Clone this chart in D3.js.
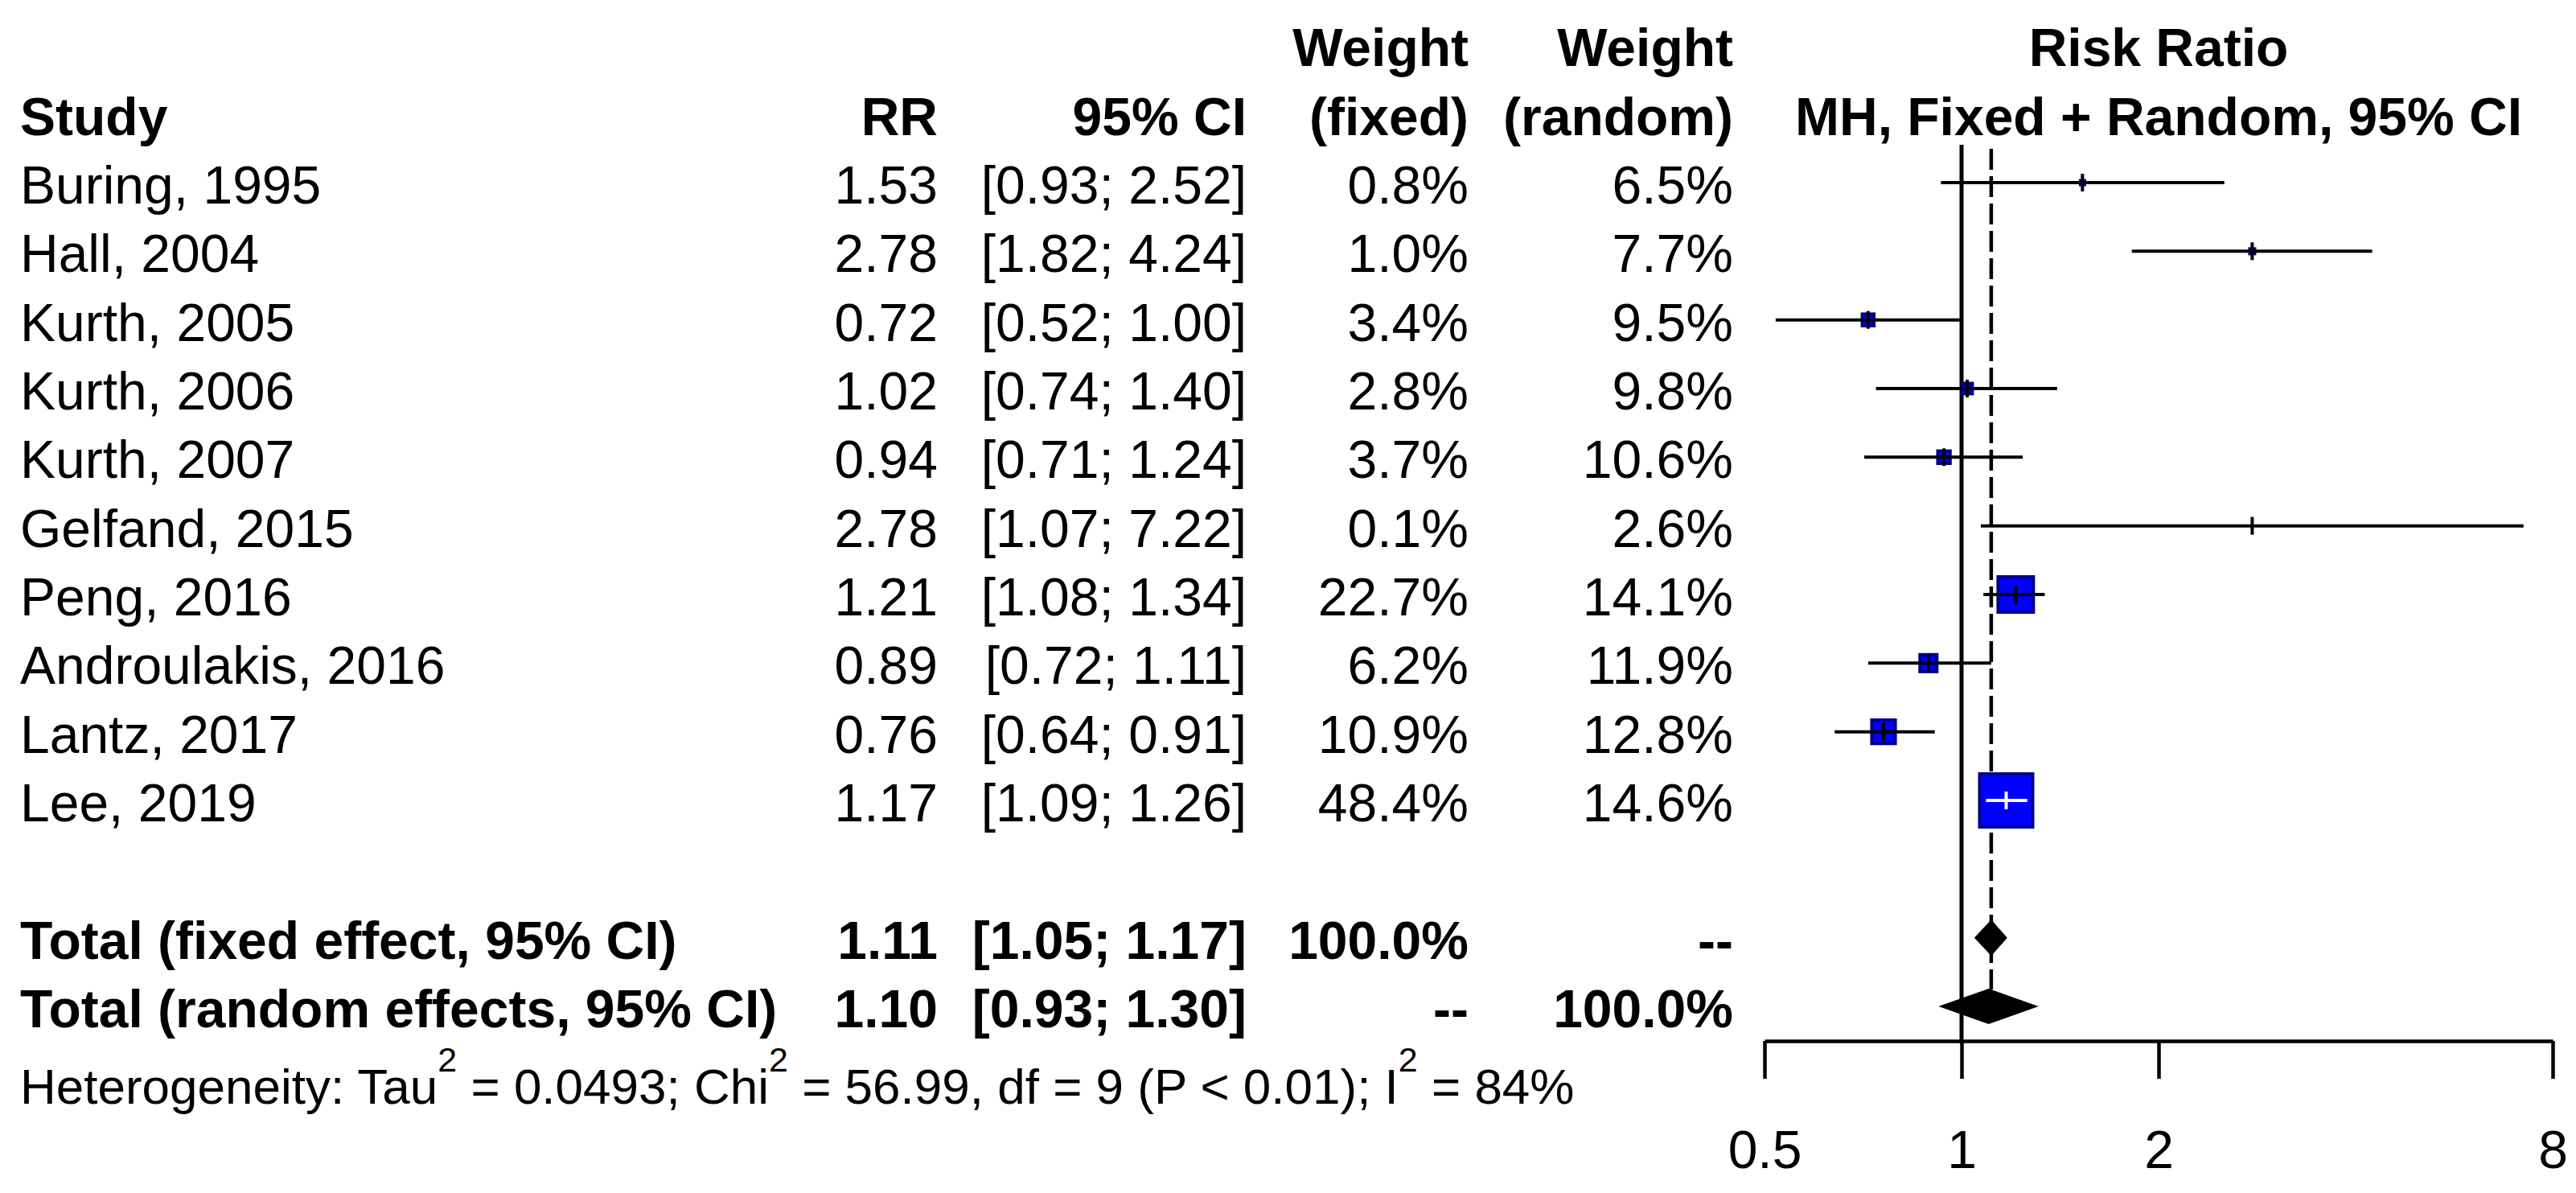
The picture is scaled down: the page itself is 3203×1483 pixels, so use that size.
<!DOCTYPE html>
<html>
<head>
<meta charset="utf-8">
<title>Forest plot</title>
<script src="https://d3js.org/d3.v7.min.js"></script>
<style>
body { margin: 0; background: #fff; }
text { font-family: "Liberation Sans", Arial, sans-serif; fill: #000; }
</style>
</head>
<body>
<svg id="chart" width="3203" height="1483"></svg>
<script>
// study data
var studies = ["Buring, 1995", "Hall, 2004", "Kurth, 2005", "Kurth, 2006", "Kurth, 2007",
  "Gelfand, 2015", "Peng, 2016", "Androulakis, 2016", "Lantz, 2017", "Lee, 2019"];
var rr    = [1.53, 2.78, 0.72, 1.02, 0.94, 2.78, 1.21, 0.89, 0.76, 1.17];
var ciLo  = [0.93, 1.82, 0.52, 0.74, 0.71, 1.07, 1.08, 0.72, 0.64, 1.09];
var ciHi  = [2.52, 4.24, 1.00, 1.40, 1.24, 7.22, 1.34, 1.11, 0.91, 1.26];
var wFixed  = [0.8, 1.0, 3.4, 2.8, 3.7, 0.1, 22.7, 6.2, 10.9, 48.4];
var wRandom = [6.5, 7.7, 9.5, 9.8, 10.6, 2.6, 14.1, 11.9, 12.8, 14.6];

// pooled estimates
var totalLabels = ["Total (fixed effect, 95% CI)", "Total (random effects, 95% CI)"];
var totalRR  = [1.11, 1.10];
var totalLo  = [1.05, 0.93];
var totalHi  = [1.17, 1.30];
var totalWF  = ["100.0%", "--"];
var totalWR  = ["--", "100.0%"];

var axisTicks = [0.5, 1, 2, 8];

var svg = d3.select("#chart");
var fs = 66;

var x = d3.scaleLog().base(2).domain([0.5, 8]).range([2194, 3174]);
var y = d3.scaleLinear().domain([0, 9]).range([227, 995]);
var side = d3.scaleSqrt().domain([0, 48.4]).range([0, 70]);

var colStudy = 25, colRR = 1166, colCI = 1550, colWF = 1826, colWR = 2155;
var base = 26;

function txt(xx, yy, s, anchor, bold, size) {
  return svg.append("text").attr("x", xx).attr("y", yy)
    .attr("text-anchor", anchor || "start")
    .attr("font-weight", bold ? "bold" : "normal")
    .attr("font-size", size || fs).text(s);
}
function fmt(v) { return v.toFixed(2); }
function ciText(lo, hi) { return "[" + fmt(lo) + "; " + fmt(hi) + "]"; }

// headers
txt(colWF, y(-2) + base, "Weight", "end", true);
txt(colWR, y(-2) + base, "Weight", "end", true);
txt((x(0.5) + x(8)) / 2, y(-2) + base, "Risk Ratio", "middle", true);
txt(colStudy, y(-1) + base, "Study", "start", true);
txt(colRR, y(-1) + base, "RR", "end", true);
txt(colCI, y(-1) + base, "95% CI", "end", true);
txt(colWF, y(-1) + base, "(fixed)", "end", true);
txt(colWR, y(-1) + base, "(random)", "end", true);
txt((x(0.5) + x(8)) / 2, y(-1) + base, "MH, Fixed + Random, 95% CI", "middle", true);

// study rows text
studies.forEach(function (s, i) {
  var yy = y(i) + base;
  txt(colStudy, yy, s, "start");
  txt(colRR, yy, fmt(rr[i]), "end");
  txt(colCI, yy, ciText(ciLo[i], ciHi[i]), "end");
  txt(colWF, yy, wFixed[i].toFixed(1) + "%", "end");
  txt(colWR, yy, wRandom[i].toFixed(1) + "%", "end");
});

// totals text
totalLabels.forEach(function (s, i) {
  var yy = y(11 + i) + base;
  txt(colStudy, yy, s, "start", true);
  txt(colRR, yy, fmt(totalRR[i]), "end", true);
  txt(colCI, yy, ciText(totalLo[i], totalHi[i]), "end", true);
  txt(colWF, yy, totalWF[i], "end", true);
  txt(colWR, yy, totalWR[i], "end", true);
});

// heterogeneity
var het = svg.append("text").attr("x", colStudy).attr("y", 1372).attr("font-size", 62);
het.append("tspan").text("Heterogeneity: Tau");
het.append("tspan").attr("font-size", 43).attr("dy", -40).text("2");
het.append("tspan").attr("dy", 40).text(" = 0.0493; Chi");
het.append("tspan").attr("font-size", 43).attr("dy", -40).text("2");
het.append("tspan").attr("dy", 40).text(" = 56.99, df = 9 (P < 0.01); I");
het.append("tspan").attr("font-size", 43).attr("dy", -40).text("2");
het.append("tspan").attr("dy", 40).text(" = 84%");

// reference lines
var plotTop = 180, axisY = 1294, dh = 21;
svg.append("line").attr("x1", x(1)).attr("x2", x(1))
  .attr("y1", plotTop).attr("y2", axisY)
  .attr("stroke", "#000").attr("stroke-width", 5);
svg.append("line").attr("x1", x(totalRR[0])).attr("x2", x(totalRR[0]))
  .attr("y1", plotTop + 5).attr("y2", y(12) - dh)
  .attr("stroke", "#000").attr("stroke-width", 4.5)
  .attr("stroke-dasharray", "26,8");

// study CIs, squares and ticks
studies.forEach(function (s, i) {
  var cy = y(i), cx = x(rr[i]), sd = side(wFixed[i]);
  var inside = x(ciLo[i]) >= cx - sd / 2 && x(ciHi[i]) <= cx + sd / 2;
  var lc = inside ? "#fff" : "#000";
  if (sd > 4) {
    svg.append("rect").attr("x", cx - sd / 2 + 2).attr("y", cy - sd / 2 + 2)
      .attr("width", sd - 4).attr("height", sd - 4)
      .attr("fill", "#0000ff").attr("stroke", "#00008b").attr("stroke-width", 4);
  }
  svg.append("line").attr("x1", x(ciLo[i])).attr("x2", x(ciHi[i]))
    .attr("y1", cy).attr("y2", cy).attr("stroke", lc).attr("stroke-width", 4);
  svg.append("line").attr("x1", cx).attr("x2", cx)
    .attr("y1", cy - 11).attr("y2", cy + 11).attr("stroke", lc).attr("stroke-width", 4);
});

// diamonds
totalRR.forEach(function (v, i) {
  var cy = y(11 + i);
  var pts = [[x(totalLo[i]), cy], [x(v), cy - dh], [x(totalHi[i]), cy], [x(v), cy + dh]];
  svg.append("polygon").attr("points", pts.map(function (p) { return p.join(","); }).join(" "))
    .attr("fill", "#000").attr("stroke", "#000").attr("stroke-width", 2);
});

// axis
var axis = d3.axisBottom(x).tickValues(axisTicks).tickFormat(d3.format("")).tickSize(47).tickSizeOuter(0);
var gAxis = svg.append("g").attr("transform", "translate(0," + axisY + ")").call(axis);
gAxis.select(".domain").attr("stroke", "#000").attr("stroke-width", 4.5);
gAxis.selectAll(".tick line").attr("stroke", "#000").attr("stroke-width", 4.5);
gAxis.selectAll(".tick text").attr("font-size", fs).attr("font-family", "Liberation Sans, Arial, sans-serif")
  .attr("fill", "#000").attr("dy", null).attr("y", 158);
</script>
</body>
</html>
